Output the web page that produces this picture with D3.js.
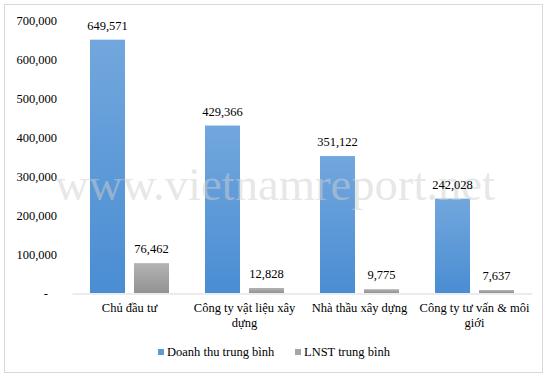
<!DOCTYPE html>
<html>
<head>
<meta charset="utf-8">
<script src="https://cdn.jsdelivr.net/npm/d3@7/dist/d3.min.js"></script>
<style>
html,body{margin:0;padding:0;background:#fff;}
svg{display:block;}
text{font-family:"Liberation Serif","Times New Roman",serif;}
</style>
</head>
<body>
<svg id="chart" width="550" height="376"></svg>
<script>
const categories = ["Chủ đầu tư", "Công ty vật liệu xây dựng", "Nhà thầu xây dựng", "Công ty tư vấn & môi giới"];
const seriesNames = ["Doanh thu trung bình", "LNST trung bình"];
const revenue = [649571, 429366, 351122, 242028];
const profit = [76462, 12828, 9775, 7637];
const yTicks = [0, 100000, 200000, 300000, 400000, 500000, 600000, 700000];
const watermark = "www.vietnamreport.net";

const svg = d3.select("#chart");
const x0 = 72, x1 = 532, yTop = 20, yBase = 293;

// outer border
svg.append("rect").attr("x", 4.5).attr("y", 4.5).attr("width", 538).attr("height", 368)
  .attr("fill", "#fff").attr("stroke", "#d9d9d9").attr("stroke-width", 1);

const defs = svg.append("defs");
const gBlue = defs.append("linearGradient").attr("id", "gBlue").attr("x1", 0).attr("y1", 0).attr("x2", 0).attr("y2", 1);
gBlue.append("stop").attr("offset", "0%").attr("stop-color", "#72a7dd");
gBlue.append("stop").attr("offset", "100%").attr("stop-color", "#4a8dd3");
const gGray = defs.append("linearGradient").attr("id", "gGray").attr("x1", 0).attr("y1", 0).attr("x2", 0).attr("y2", 1);
gGray.append("stop").attr("offset", "0%").attr("stop-color", "#b3b3b3");
gGray.append("stop").attr("offset", "100%").attr("stop-color", "#929292");
const fills = ["url(#gBlue)", "url(#gGray)"];
const legendColors = ["#5b9bd5", "#a5a5a5"];

const y = d3.scaleLinear().domain([0, 700000]).range([yBase, yTop]);
const step = (x1 - x0) / categories.length;
const xb = d3.scaleBand().domain(categories).range([x0, x1]).paddingInner(0).paddingOuter(0);
const inner = d3.scaleBand().domain([0, 1]).range([18, step - 18]).paddingInner(9 / 44);

// y-axis labels
const yAxis = d3.axisLeft(y).tickValues(yTicks).tickSize(0).tickPadding(0)
  .tickFormat(d => d === 0 ? "-" : d3.format(",")(d));
const ya = svg.append("g").attr("transform", "translate(57,0)").call(yAxis);
ya.select(".domain").remove();
ya.selectAll("text").attr("font-size", "12.5px").attr("fill", "#000")
  .attr("font-family", "Liberation Serif, Times New Roman, serif");
ya.selectAll(".tick").filter(d => d === 0).select("text").attr("dx", "-9");

// bars
const data = categories.map((c, i) => ({c, vals: [revenue[i], profit[i]]}));
const groups = svg.append("g").selectAll("g").data(data).join("g")
  .attr("transform", d => `translate(${xb(d.c)},0)`);
groups.selectAll("rect").data(d => d.vals.map((v, k) => ({v, k}))).join("rect")
  .attr("x", d => inner(d.k)).attr("width", inner.bandwidth())
  .attr("y", d => y(d.v)).attr("height", d => yBase - y(d.v))
  .attr("fill", d => fills[d.k]);

// watermark (semi-transparent, over bars, under labels)
svg.append("text").attr("x", 55).attr("y", 200).attr("font-size", "47px")
  .attr("textLength", 440).attr("lengthAdjust", "spacingAndGlyphs")
  .attr("fill", "#cfcfcf").attr("fill-opacity", 0.5).text(watermark);

const labels = svg.append("g").selectAll("g").data(data).join("g")
  .attr("transform", d => `translate(${xb(d.c)},0)`);
labels.selectAll("text.val").data(d => d.vals.map((v, k) => ({v, k}))).join("text")
  .attr("class", "val")
  .attr("x", d => inner(d.k) + inner.bandwidth() / 2)
  .attr("y", d => y(d.v) - 10)
  .attr("text-anchor", "middle").attr("font-size", "12.5px").attr("fill", "#000")
  .text(d => d3.format(",")(d.v));

// x axis line
const xAxis = d3.axisBottom(xb).tickSize(0).tickFormat("");
const xa = svg.append("g").attr("transform", `translate(0,${yBase + 0.5})`).call(xAxis);
xa.select(".domain").attr("stroke", "#d9d9d9").attr("stroke-width", 1);

// category labels with wrapping
const catG = svg.append("g");
categories.forEach(c => {
  const t = catG.append("text").attr("text-anchor", "middle").attr("font-size", "12.5px").attr("fill", "#000");
  const cx = xb(c) + step / 2;
  const words = c.split(" ");
  let lines = [], line = [];
  const probe = catG.append("text").attr("font-size", "12.5px");
  words.forEach(w => {
    const test = line.concat([w]).join(" ");
    probe.text(test);
    if (probe.node().getComputedTextLength() > step + 2 && line.length) {
      lines.push(line.join(" "));
      line = [w];
    } else line.push(w);
  });
  lines.push(line.join(" "));
  probe.remove();
  lines.forEach((l, i) => {
    t.append("tspan").attr("x", cx).attr("y", 312 + i * 15).text(l);
  });
});

// legend
const lg = svg.append("g");
const legX = [158, 295];
seriesNames.forEach((s, i) => {
  lg.append("rect").attr("x", legX[i]).attr("y", 349).attr("width", 6).attr("height", 6).attr("fill", legendColors[i]);
  lg.append("text").attr("x", legX[i] + 9).attr("y", 356).attr("font-size", "12.5px").attr("fill", "#000").text(s);
});
</script>
</body>
</html>
